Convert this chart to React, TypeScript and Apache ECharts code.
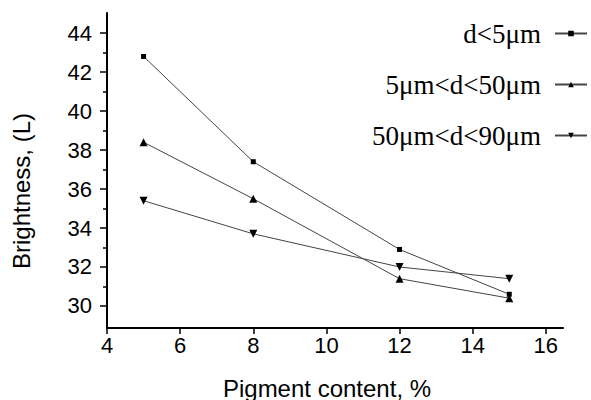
import { useEffect, useRef } from "react";
import * as echarts from "echarts";

const xValues = [5, 8, 12, 15];
const seriesNames = ["d<5μm", "5μm<d<50μm", "50μm<d<90μm"];
const fine = [42.8, 37.4, 32.9, 30.6];
const medium = [38.4, 35.5, 31.4, 30.4];
const coarse = [35.4, 33.7, 32.0, 31.4];
const xTicks = [4, 6, 8, 10, 12, 14, 16];
const yTicks = [30, 32, 34, 36, 38, 40, 42, 44];
const yMinorTicks = [31, 33, 35, 37, 39, 41, 43];
const xTitle = "Pigment content, %";
const yTitle = "Brightness, (L)";

const SANS = "Liberation Sans, Arial, sans-serif";
const SERIF = "Liberation Serif, Times New Roman, serif";

export default function App() {
  const ref = useRef<HTMLDivElement>(null);
  useEffect(() => {
    if (!ref.current) return;
    const chart = echarts.init(ref.current, undefined, { renderer: "svg" });
    const toPairs = (arr: number[]) => xValues.map((x, i) => [x, arr[i]]);
    const lineStyle = { color: "#444", width: 1 };
    const itemStyle = { color: "#000" };
    chart.setOption({
      animation: false,
      backgroundColor: "#fff",
      grid: { left: 107, right: 28, top: 13, bottom: 72, containLabel: false },
      legend: {
        orient: "vertical",
        right: 3,
        top: 20,
        padding: 0,
        align: "right",
        itemWidth: 32,
        itemHeight: 7,
        itemGap: 24,
        textStyle: {
          fontFamily: SERIF,
          fontSize: 27,
          color: "#000",
          lineHeight: 26,
          padding: [0, 9, 0, 0],
        },
        data: seriesNames,
      },
      xAxis: {
        type: "value",
        min: 4,
        max: 16.47,
        axisLine: { show: true, lineStyle: { color: "#000", width: 2 } },
        axisTick: {
          show: true,
          customValues: xTicks,
          length: 6,
          inside: false,
          lineStyle: { color: "#000", width: 1.5 },
        },
        axisLabel: {
          customValues: xTicks,
          fontFamily: SANS,
          fontSize: 22,
          color: "#000",
          margin: 6,
        },
        splitLine: { show: false },
      },
      yAxis: [
        {
          type: "value",
          min: 28.87,
          max: 45.03,
          axisLine: { show: true, lineStyle: { color: "#000", width: 2 } },
          axisTick: {
            show: true,
            customValues: yTicks,
            length: 7,
            lineStyle: { color: "#000", width: 1.5 },
          },
          axisLabel: {
            customValues: yTicks,
            fontFamily: SANS,
            fontSize: 22,
            color: "#000",
            margin: 15,
          },
          splitLine: { show: false },
        },
        {
          type: "value",
          position: "left",
          min: 28.87,
          max: 45.03,
          axisLine: { show: false },
          axisTick: {
            show: true,
            customValues: yMinorTicks,
            length: 4,
            lineStyle: { color: "#000", width: 1.5 },
          },
          axisLabel: { show: false },
          splitLine: { show: false },
        },
      ],
      graphic: [
        {
          type: "text",
          x: 327,
          y: 388,
          style: {
            text: xTitle,
            fontFamily: SANS,
            fontSize: 24,
            fill: "#000",
            align: "center",
            verticalAlign: "middle",
          },
        },
        {
          type: "text",
          x: 21,
          y: 191,
          rotation: Math.PI / 2,
          style: {
            text: yTitle,
            fontFamily: SANS,
            fontSize: 24,
            fill: "#000",
            align: "center",
            verticalAlign: "middle",
          },
        },
      ],
      series: [
        {
          name: seriesNames[0],
          type: "line",
          data: toPairs(fine),
          symbol: "rect",
          symbolSize: 5,
          lineStyle,
          itemStyle,
        },
        {
          name: seriesNames[1],
          type: "line",
          data: toPairs(medium),
          symbol: "triangle",
          symbolSize: 8,
          lineStyle,
          itemStyle,
        },
        {
          name: seriesNames[2],
          type: "line",
          data: toPairs(coarse),
          symbol: "triangle",
          symbolRotate: 180,
          symbolSize: 8,
          lineStyle,
          itemStyle,
        },
      ],
    });
    return () => chart.dispose();
  }, []);
  return (
    <div
      ref={ref}
      style={{ position: "fixed", left: 0, top: 0, width: 591, height: 400 }}
    />
  );
}
